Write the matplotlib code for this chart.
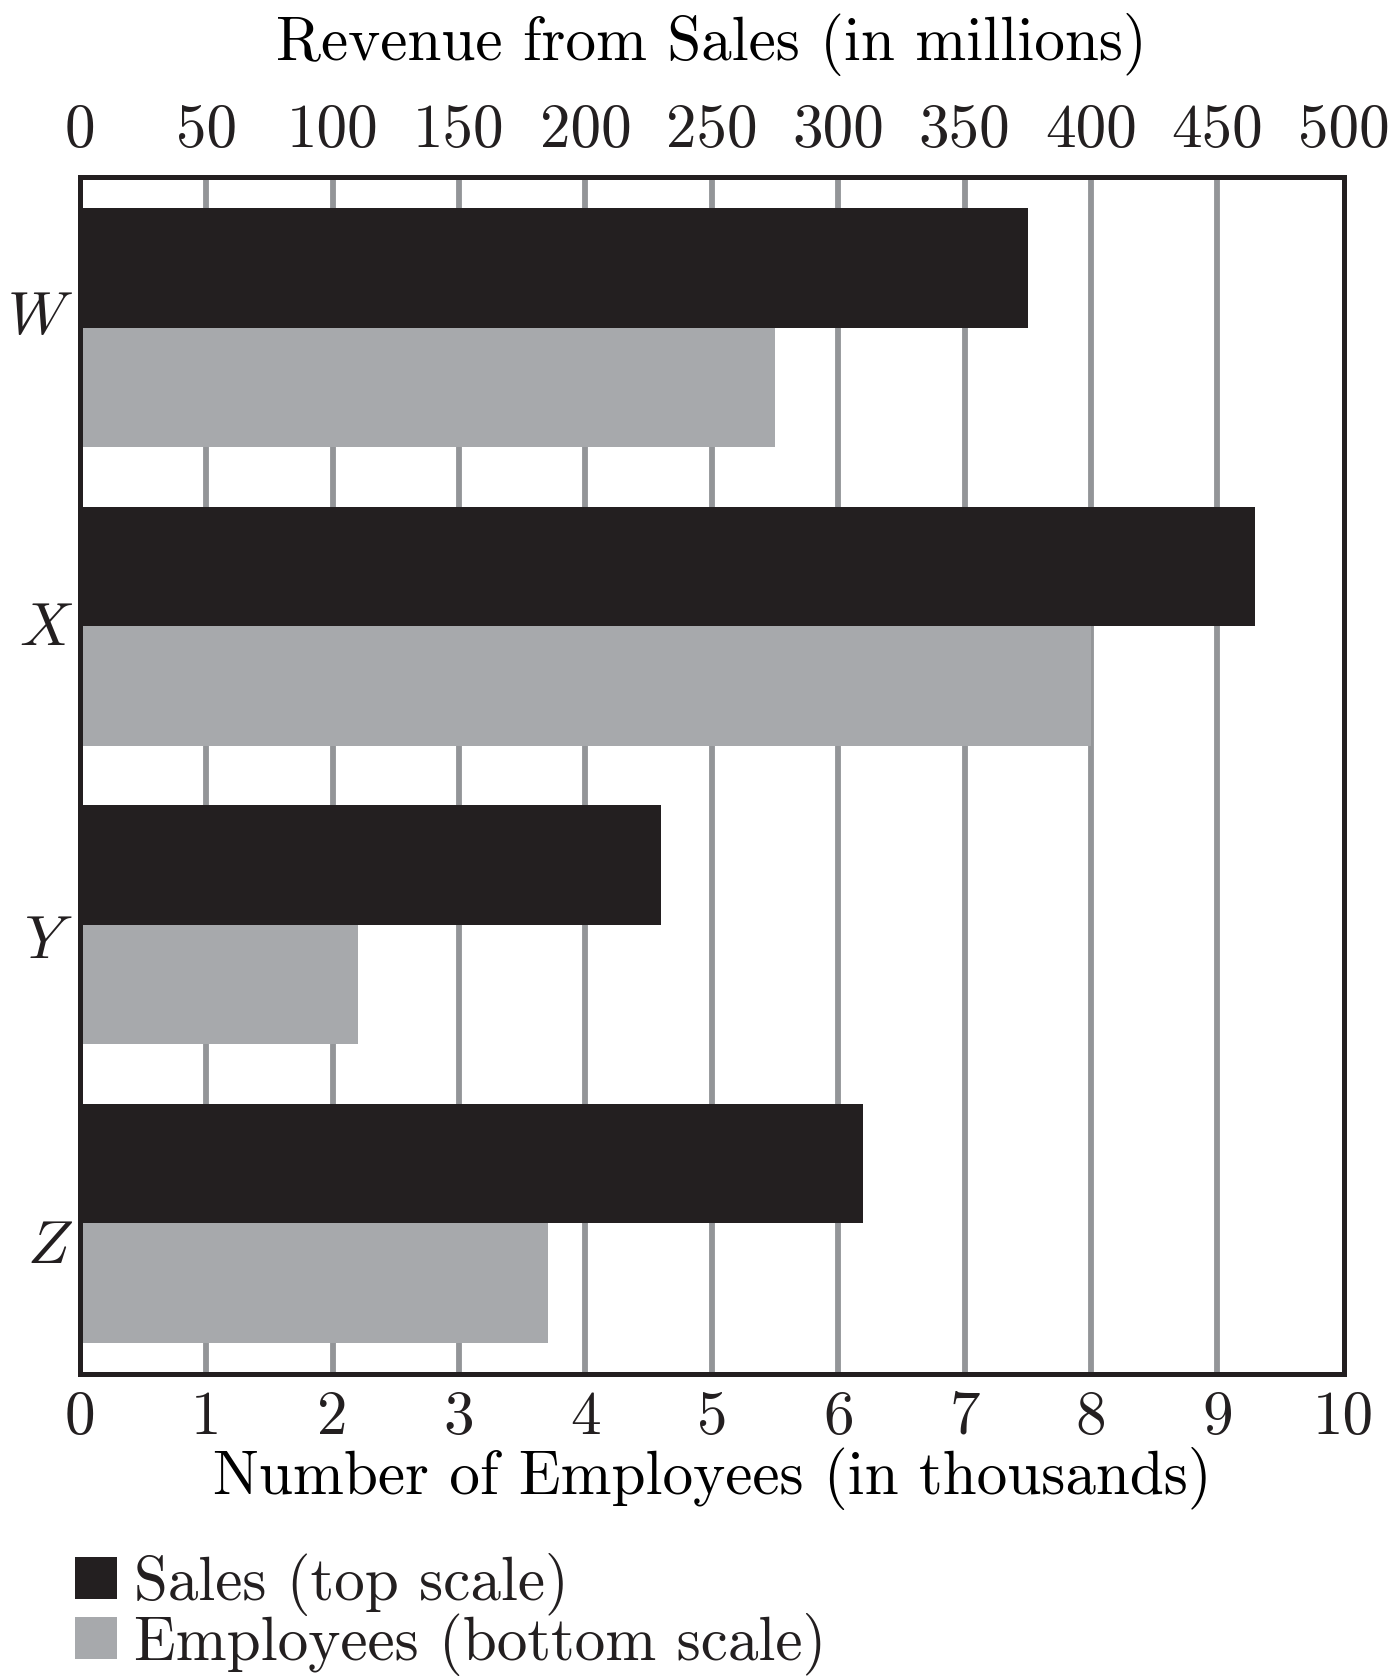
import numpy as np
import matplotlib
matplotlib.use("Agg")
import matplotlib.pyplot as plt
from matplotlib.patches import Patch

# data
companies = ["W", "X", "Y", "Z"]
sales = [375, 465, 230, 310]          # revenue, millions (top scale)
employees = [5.5, 8.0, 2.2, 3.7]      # thousands (bottom scale)
top_ticks = [0, 50, 100, 150, 200, 250, 300, 350, 400, 450, 500]
bottom_ticks = [0, 1, 2, 3, 4, 5, 6, 7, 8, 9, 10]

dark = "#231f20"
gray = "#a7a9ac"
grid_gray = "#939598"

plt.rcParams["font.family"] = ["cmr10", "DejaVu Serif"]
plt.rcParams["mathtext.fontset"] = "cm"
plt.rcParams["axes.formatter.use_mathtext"] = True
plt.rcParams["text.color"] = dark

fs = 44

fig = plt.figure(figsize=(13.9, 16.77), dpi=100)
ax = fig.add_axes([0.0575, 0.1807, 0.9092, 0.7138])
ax2 = ax.twiny()

y = np.arange(len(companies))
h = 0.40

# employees on the bottom axis, sales on the top one
ax.barh(y + h / 2, employees, height=h, color=gray, zorder=2)
ax2.barh(y - h / 2, sales, height=h, color=dark, zorder=2)

ax.set_xlim(0, 10)
ax2.set_xlim(0, 500)
ax.set_ylim(3.505, -0.505)
ax2.set_ylim(3.505, -0.505)

# grid lines at 1..9
for v in bottom_ticks[1:-1]:
    ax.axvline(v, color=grid_gray, lw=4.2, zorder=1)

ax.set_xticks(bottom_ticks)
ax.set_xticklabels([str(t) for t in bottom_ticks])
ax2.set_xticks(top_ticks)
ax2.set_xticklabels([str(t) for t in top_ticks])
# the letters in the reference sit slightly off the group centres
ax.set_yticks(y + np.array([-0.05, -0.01, 0.04, 0.06]))
ax.set_yticklabels(["$" + c + "$" for c in companies])

ax.tick_params(axis="x", length=0, labelsize=fs, pad=12, colors=dark)
ax2.tick_params(axis="x", length=0, labelsize=fs, pad=13, colors=dark)
ax.tick_params(axis="y", length=0, labelsize=fs, pad=5, colors=dark)

ax.set_xlabel("Number of Employees (in thousands)", fontsize=fs, labelpad=1)
ax2.set_xlabel("Revenue from Sales (in millions)", fontsize=fs, labelpad=31)

for a in (ax, ax2):
    for s in a.spines.values():
        s.set_linewidth(3.6)
        s.set_color(dark)
        s.set_zorder(5)

handles = [Patch(facecolor=dark, label="Sales (top scale)"),
           Patch(facecolor=gray, label="Employees (bottom scale)")]
fig.legend(handles=handles, loc="upper left", bbox_to_anchor=(0.054, 0.074),
           frameon=False, fontsize=fs, handlelength=0.68, handleheight=0.68,
           handletextpad=0.28, labelspacing=-0.05, borderpad=0, borderaxespad=0)

fig.savefig("out.png", dpi=100)
